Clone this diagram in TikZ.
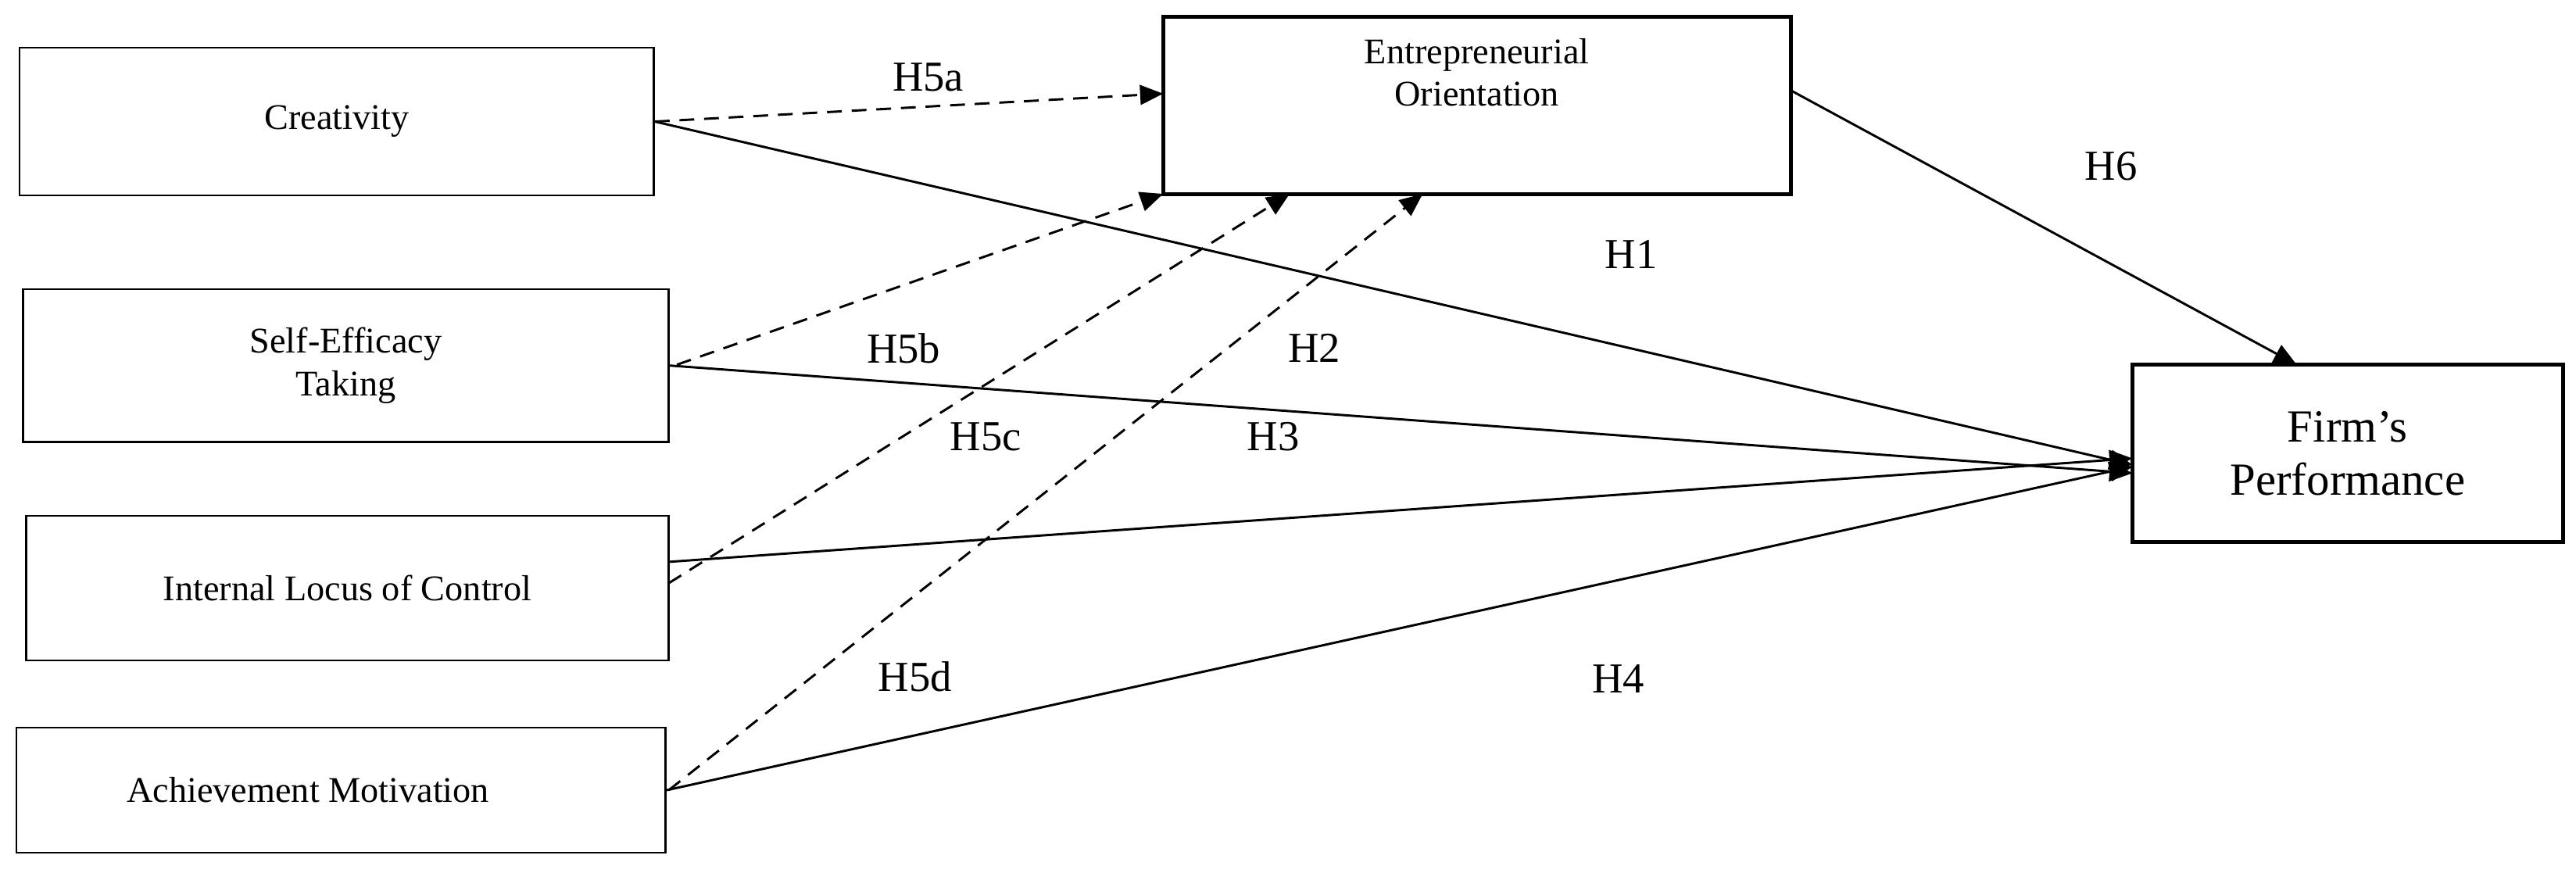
\documentclass[tikz,border=0pt]{standalone}
\usepackage{fontspec}
\setmainfont{Liberation Serif}
\usetikzlibrary{arrows.meta}
\tikzset{every picture/.style={line width=1.4pt}}
\tikzset{
  box/.style={draw, line width=1.2pt, inner sep=0pt, font=\fontsize{22}{26}\selectfont, align=center},
  bbox/.style={box, line width=2.4pt},
  hyp/.style={font=\fontsize{26}{30}\selectfont, inner sep=0pt},
  path/.style={-{Triangle[length=14pt,width=12pt]}},
  med/.style={path, dashed, dash pattern=on 9pt off 6pt}
}
\begin{document}
\begin{tikzpicture}[x=1pt,y=-1pt]
\useasboundingbox (0,0) rectangle (1568,531);

% Boxes
\node [box, minimum width=386pt, minimum height=90pt] (cre) at (205,74) {Creativity};
\node [box, minimum width=393pt, minimum height=93pt] (sef) at (210.5,222.5) {Self-Efficacy\\ Taking};
\node [box, minimum width=391pt, minimum height=88pt] (loc) at (211.5,358) {Internal Locus of Control};
\node [box, minimum width=395pt, minimum height=76pt] (ach) at (207.5,481) {\hspace*{-40pt}Achievement Motivation};
\node [bbox, minimum width=382pt, minimum height=108pt] (eo) at (899,64) {Entrepreneurial\\ Orientation\\[14pt]};
\node [bbox, minimum width=262pt, minimum height=108pt, font=\fontsize{28}{32}\selectfont] (fp) at (1429,276) {Firm's\\ Performance};

% Anchor points
\coordinate (fp1) at (1298,283);
\coordinate (fp2) at (1298,288);
\coordinate (fp3) at (1298,279);
\coordinate (fp4) at (1298,284);
\coordinate (fpt) at (1398,222);
\coordinate (eoa) at (708,57);
\coordinate (eob) at (708,118);
\coordinate (eoc) at (785,118);
\coordinate (eod) at (866,118);

% Direct paths
\draw [path] (cre.east) -- (fp1);
\draw [path] (sef.east) -- (fp2);
\draw [path] (407,342) -- (fp3);
\draw [path] (ach.east) -- (fp4);
\draw [path] (1090,55) -- (fpt);

% Mediated paths
\draw [med] (cre.east) -- (eoa);
\draw [med] (412,222) -- (eob);
\draw [med] (407,355) -- (eoc);
\draw [med] (407,481) -- (eod);

% Labels
\node [hyp] at (565,47) {H5a};
\node [hyp] at (1285,101) {H6};
\node [hyp] at (993,155) {H1};
\node [hyp] at (550,212) {H5b};
\node [hyp] at (800,212) {H2};
\node [hyp] at (600,266) {H5c};
\node [hyp] at (775,266) {H3};
\node [hyp] at (557,412) {H5d};
\node [hyp] at (985,413) {H4};
\end{tikzpicture}
\end{document}
